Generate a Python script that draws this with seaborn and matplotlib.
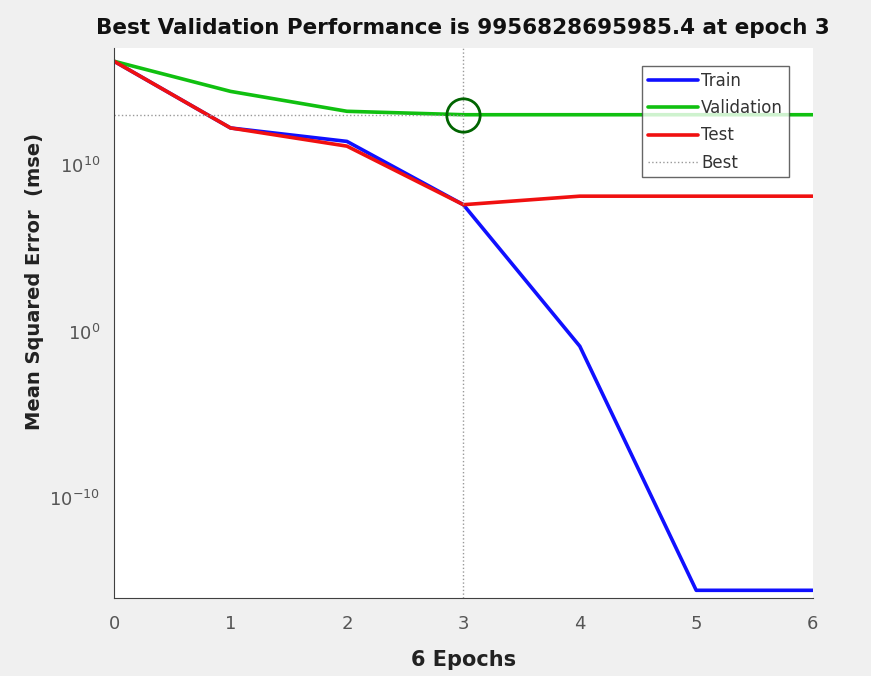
import matplotlib
matplotlib.use("Agg")
import matplotlib.pyplot as plt
import seaborn as sns
import pandas as pd
from matplotlib.lines import Line2D

# values (mse per epoch)
epochs = [0, 1, 2, 3, 4, 5, 6]
train_mse = [1.6e16, 1.6e12, 2.5e11, 4.0e7, 1.3e-1, 3.0e-16, 3.0e-16]
val_mse = [1.6e16, 2.5e14, 1.6e13, 9956828695985.4, 9956828695985.4, 9956828695985.4, 9956828695985.4]
test_mse = [1.6e16, 1.6e12, 1.3e11, 4.0e7, 1.3e8, 1.3e8, 1.3e8]
best_epoch = 3
best_perf = 9956828695985.4

df = pd.DataFrame({
    "epoch": epochs * 3,
    "mse": train_mse + val_mse + test_mse,
    "set": ["Train"] * 7 + ["Validation"] * 7 + ["Test"] * 7,
})

sns.set_style("white")
plt.rcParams["font.family"] = ["DejaVu Sans"]

fig = plt.figure(figsize=(8.71, 6.76), dpi=100, facecolor="#f0f0f0")
ax = fig.add_axes([0.131, 0.115, 0.802, 0.814])
ax.set_facecolor("white")

palette = {"Train": "#1010ff", "Validation": "#10c010", "Test": "#f01010"}
sns.lineplot(data=df, x="epoch", y="mse", hue="set", palette=palette,
             linewidth=2.6, ax=ax, legend=False)

# best markers
ax.plot([0, best_epoch], [best_perf, best_perf], ":", color="#999999", linewidth=1)
ax.axvline(best_epoch, linestyle=":", color="#999999", linewidth=1)
ax.plot(best_epoch, best_perf, "o", markerfacecolor="none", markeredgecolor="#006400",
        markersize=24, markeredgewidth=2)

ax.set_yscale("log")
ax.set_ylim(1e-16, 1e17)
ax.set_xlim(0, 6)
ax.set_yticks([1e-10, 1e0, 1e10])
ax.set_yticklabels(["$10^{-10}$", "$10^{0}$", "$10^{10}$"])
ax.yaxis.set_minor_locator(matplotlib.ticker.NullLocator())
ax.set_xticks(epochs)

for side in ["top", "right"]:
    ax.spines[side].set_visible(False)
for side in ["left", "bottom"]:
    ax.spines[side].set_color("#404040")
ax.tick_params(direction="in", length=4, colors="#404040", labelcolor="#555555",
               labelsize=13)
ax.tick_params(axis="x", pad=12)
ax.tick_params(axis="y", pad=10)

ax.set_title("Best Validation Performance is 9956828695985.4 at epoch 3",
             fontsize=15.5, fontweight="bold", pad=10, color="#111111")
ax.set_xlabel("6 Epochs", fontsize=15, fontweight="bold", color="#222222", labelpad=12)
ax.set_ylabel("Mean Squared Error  (mse)", fontsize=14, fontweight="bold", color="#222222")
ax.yaxis.set_label_coords(-0.1, 0.575)

handles = [Line2D([], [], color="#1010ff", lw=2.6),
           Line2D([], [], color="#10c010", lw=2.6),
           Line2D([], [], color="#f01010", lw=2.6),
           Line2D([], [], color="#999999", lw=1, ls=":")]
leg = ax.legend(handles, ["Train", "Validation", "Test", "Best"], loc="upper right",
                bbox_to_anchor=(0.978, 0.982), fontsize=12, frameon=True, fancybox=False,
                edgecolor="#404040", handlelength=3.0, handletextpad=0.2,
                labelspacing=0.55, borderpad=0.35)
leg.get_frame().set_linewidth(1)
for t in leg.get_texts():
    t.set_color("#333333")

fig.savefig("out.png", dpi=100, facecolor=fig.get_facecolor())
